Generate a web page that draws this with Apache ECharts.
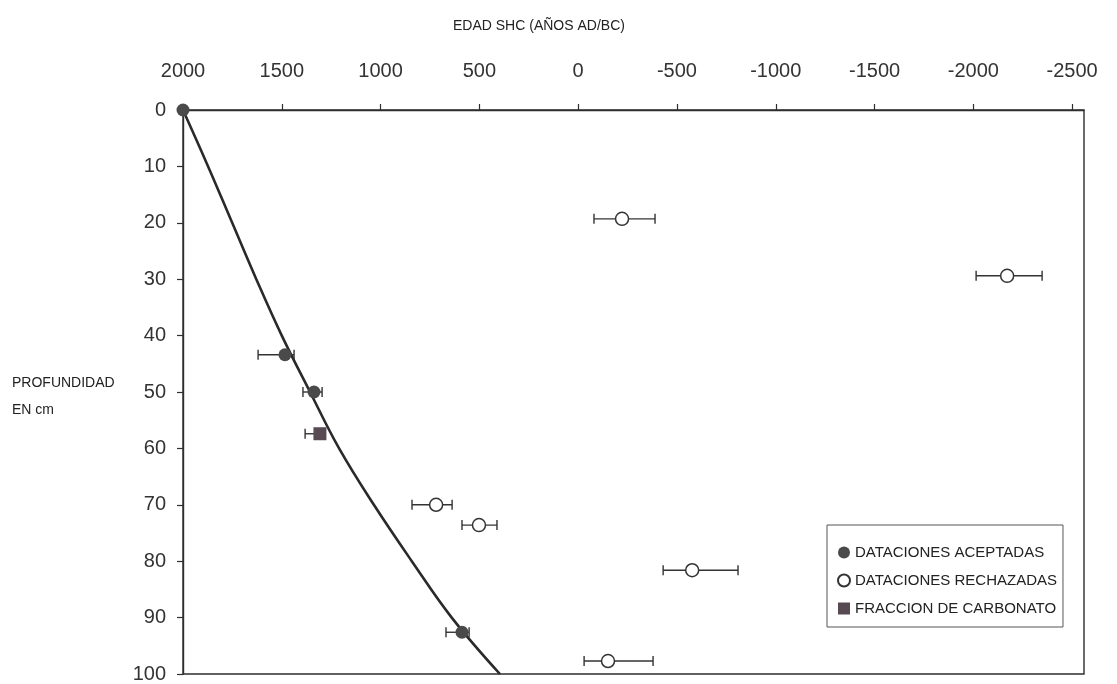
<!DOCTYPE html>
<html>
<head>
<meta charset="utf-8">
<title>Edad SHC vs profundidad</title>
<script src="https://cdn.jsdelivr.net/npm/echarts@6/dist/echarts.min.js"></script>
<style>
  html, body { margin: 0; padding: 0; background: #fff; }
  #chart { width: 1117px; height: 684px; }
</style>
</head>
<body>
<div id="chart"></div>
<script>
// Age axis ticks (years AD / BC, BC negative)
const ageTicks = [2000, 1500, 1000, 500, 0, -500, -1000, -1500, -2000, -2500];

// Age-depth model curve
const curveDepth = [0, 10, 20, 30, 40, 50, 60, 70, 80, 90, 100];
const curveAge   = [2000, 1873, 1751, 1629, 1500, 1357, 1210, 1034, 842, 640, 396];

// Accepted dates: depth (cm), age, error range
const acceptedDepth = [0, 43.4, 50, 92.6];
const acceptedAge   = [2000, 1484, 1337, 588];
const acceptedLow   = [2000, 1620, 1393, 669];
const acceptedHigh  = [2000, 1438, 1296, 552];

// Rejected dates
const rejectedDepth = [19.3, 29.4, 70.0, 73.6, 81.6, 97.7];
const rejectedAge   = [-222, -2171, 719, 502, -577, -151];
const rejectedLow   = [-80, -2014, 841, 588, -430, -30];
const rejectedHigh  = [-389, -2348, 638, 411, -809, -379];

// Carbonate fraction date
const carbonateDepth = [57.4];
const carbonateAge   = [1307];
const carbonateLow   = [1382];
const carbonateHigh  = [1280];

const FONT = "'Liberation Sans', Arial, Helvetica, sans-serif";
const INK = '#2e2e2e';

function rows(depth, age, lo, hi) {
  return depth.map((d, i) => [age[i], d, lo ? lo[i] : null, hi ? hi[i] : null]);
}

// Horizontal error bar with end caps
function errorBars(params, api) {
  const d = api.value(1);
  const a = api.coord([api.value(2), d]);
  const b = api.coord([api.value(3), d]);
  const cap = 5;
  const style = { stroke: '#333', lineWidth: 1.4 };
  return {
    type: 'group',
    children: [
      { type: 'line', shape: { x1: a[0], y1: a[1], x2: b[0], y2: b[1] }, style },
      { type: 'line', shape: { x1: a[0], y1: a[1] - cap, x2: a[0], y2: a[1] + cap }, style },
      { type: 'line', shape: { x1: b[0], y1: b[1] - cap, x2: b[0], y2: b[1] + cap }, style }
    ]
  };
}

const errData = []
  .concat(rows(acceptedDepth.slice(1), acceptedAge.slice(1), acceptedLow.slice(1), acceptedHigh.slice(1)))
  .concat(rows(rejectedDepth, rejectedAge, rejectedLow, rejectedHigh))
  .concat(rows(carbonateDepth, carbonateAge, carbonateLow, carbonateHigh));

const chart = echarts.init(document.getElementById('chart'), null, { renderer: 'canvas' });

chart.setOption({
  animation: false,
  backgroundColor: '#fff',
  textStyle: { fontFamily: FONT },
  grid: {
    left: 183, right: 33, top: 110, bottom: 9,
    show: true, borderColor: INK, borderWidth: 1.4, backgroundColor: 'transparent'
  },
  xAxis: {
    type: 'value',
    position: 'top',
    inverse: true,
    min: -2560,
    max: 2000,
    axisLine: { show: true, onZero: false, lineStyle: { color: INK, width: 1.4 } },
    axisTick: { show: true, inside: false, length: 6, customValues: ageTicks, lineStyle: { color: INK, width: 1.2 } },
    axisLabel: {
      customValues: ageTicks,
      formatter: v => String(v),
      fontSize: 20, color: '#333', margin: 29, fontFamily: FONT
    },
    splitLine: { show: false }
  },
  yAxis: {
    type: 'value',
    inverse: true,
    min: 0,
    max: 100,
    interval: 10,
    axisLine: { show: true, onZero: false, lineStyle: { color: INK, width: 1.4 } },
    axisTick: { show: true, inside: false, length: 6, lineStyle: { color: INK, width: 1.2 } },
    axisLabel: { fontSize: 20, color: '#333', margin: 17, fontFamily: FONT },
    splitLine: { show: false }
  },
  legend: {
    orient: 'vertical',
    left: 827,
    top: 525,
    padding: [20, 6, 11, 10],
    itemGap: 13,
    itemWidth: 12,
    itemHeight: 12,
    backgroundColor: '#fff',
    borderColor: '#555',
    borderWidth: 1,
    textStyle: { fontSize: 15, color: '#222', fontFamily: FONT },
    data: ['DATACIONES ACEPTADAS', 'DATACIONES RECHAZADAS', 'FRACCION DE CARBONATO']
  },
  graphic: [
    { type: 'text', left: 453, top: 19, style: { text: 'EDAD SHC (AÑOS AD/BC)', fontSize: 14, fill: '#222', font: '14px ' + FONT } },
    { type: 'text', left: 12, top: 370, style: { text: 'PROFUNDIDAD\nEN cm', fontSize: 14, lineHeight: 27, fill: '#222', font: '14px ' + FONT } }
  ],
  series: [
    {
      name: 'modelo',
      type: 'line',
      data: curveDepth.map((d, i) => [curveAge[i], d]),
      smooth: 0.4,
      symbol: 'none',
      clip: true,
      lineStyle: { color: '#2a2a2a', width: 2.6 },
      z: 2
    },
    {
      name: 'error',
      type: 'custom',
      renderItem: errorBars,
      data: errData,
      clip: false,
      z: 3
    },
    {
      name: 'DATACIONES ACEPTADAS',
      type: 'scatter',
      symbol: 'circle',
      symbolSize: 13,
      clip: false,
      data: rows(acceptedDepth, acceptedAge),
      itemStyle: { color: '#4a4a4a', opacity: 1 },
      z: 4
    },
    {
      name: 'DATACIONES RECHAZADAS',
      type: 'scatter',
      symbol: 'circle',
      symbolSize: 13,
      clip: false,
      data: rows(rejectedDepth, rejectedAge),
      itemStyle: { color: '#fff', borderColor: '#333', borderWidth: 1.5, opacity: 1 },
      z: 4
    },
    {
      name: 'FRACCION DE CARBONATO',
      type: 'scatter',
      symbol: 'rect',
      symbolSize: 13,
      clip: false,
      data: rows(carbonateDepth, carbonateAge),
      itemStyle: { color: '#574a52', opacity: 1 },
      z: 4
    }
  ]
});
</script>
</body>
</html>
